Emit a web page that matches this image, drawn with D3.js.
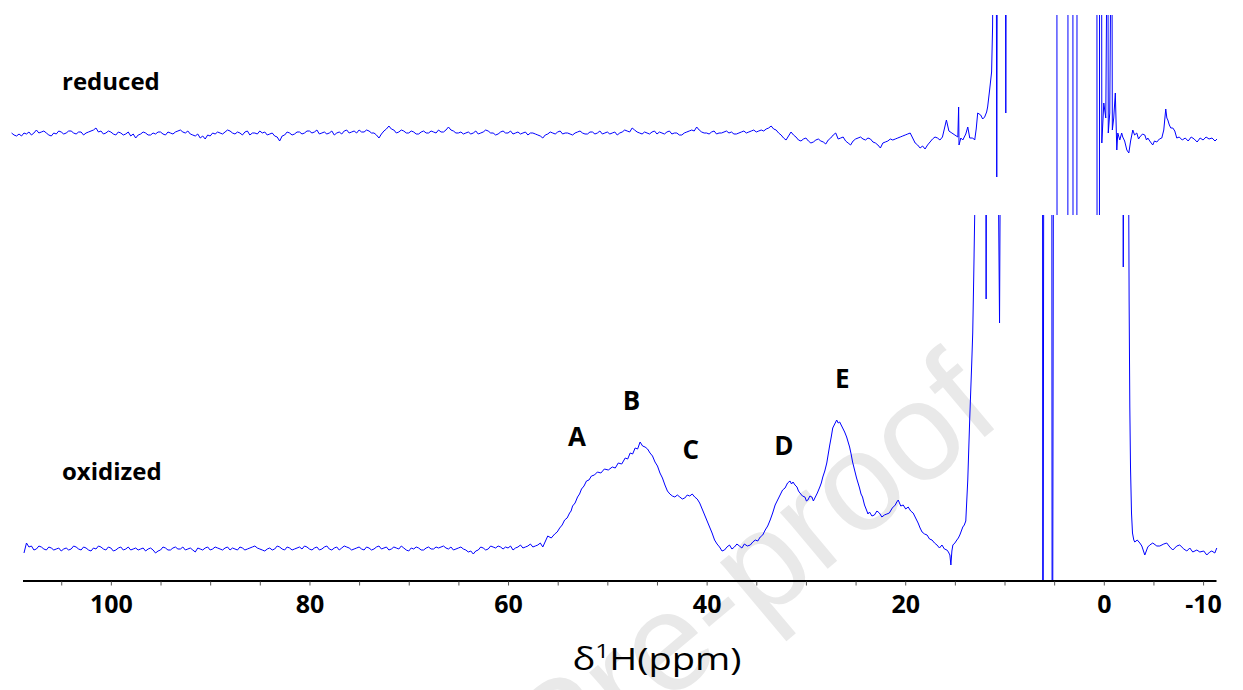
<!DOCTYPE html>
<html><head><meta charset="utf-8">
<script src="https://cdn.jsdelivr.net/npm/d3@7/dist/d3.min.js"></script>
<style>body{margin:0;background:#fff;} svg{display:block;}</style>
</head><body>
<svg id="chart" width="1243" height="690"></svg>
<script>
// ---------- data (ppm, intensity in arbitrary units) ----------
const axisTicks = [105,100,95,90,85,80,75,70,65,60,55,50,45,40,35,30,25,20,15,10,5,0,-5,-10];
const tickLabels = [100,80,60,40,20,0,-10];
const seriesNames = ["reduced","oxidized"];
const peakLabels = [
  {t:"A", ppm:53.07, h:103},
  {t:"B", ppm:47.58, h:139},
  {t:"C", ppm:41.59, h:90},
  {t:"D", ppm:32.23, h:94},
  {t:"E", ppm:26.33, h:161}
];

// reduced spectrum, baseline region: digitised every 0.25 ppm from 110 ppm downfield
const reducedNoiseStart = 110, reducedNoiseStep = 0.25;
const reducedNoise = [
0,-2,-3,-1,-3,0,-1,1,-2,0,3,0,1,2,0,-2,-3,0,-1,2,
1,-1,0,2,2,0,-1,1,1,-2,0,1,2,3,5,1,2,-1,0,2,
1,-1,-2,1,0,-2,-1,1,-3,-1,-5,-2,-1,1,0,-2,-2,0,-1,1,
1,-1,-2,1,0,-1,1,2,3,1,0,2,-1,-2,-3,-1,-5,-3,-6,-2,
-3,0,-1,1,0,-1,1,3,2,0,-1,1,0,-2,1,2,-2,0,0,-1,
2,0,1,-2,-1,0,-3,-4,-8,-3,-2,1,0,-2,-1,1,1,-1,0,2,
2,0,1,3,-1,0,1,-1,0,2,-2,0,1,-1,2,3,0,1,2,0,
3,1,1,3,2,0,0,-2,-5,-1,2,4,7,4,3,0,1,3,2,0,
0,2,1,-1,-1,1,2,0,0,2,1,0,3,1,1,3,6,3,2,0,
0,1,-1,0,1,-1,0,2,-1,0,1,3,2,0,0,-2,-1,1,2,0,
0,2,-1,0,1,-1,0,1,-2,0,0,-1,-2,-3,-5,-2,-1,1,0,-1,
1,2,-1,0,0,-1,-2,0,1,2,0,-1,-1,1,1,-1,0,2,-1,0,
1,-1,0,1,-2,0,1,3,2,1,5,3,1,0,-1,1,0,-1,1,2,
-1,1,0,-1,1,2,-1,0,0,-2,-2,0,1,2,3,2,6,3,1,0,
0,-1,1,2,-1,0,0,1,2,0,1,-1,-1,0,1,2,0,1,2,3,
1,2,3,2,4,5,7,4,3,0,-2,-5,-7,-3,1,-2,-4,-7,-8,-6,
-5,-8,-10,-9,-7,-6,-8,-9,-11,-7,-5,-2,0,-6,-5,-4,-8,-10,-12,-8,
-6,-5,-4,-6,-7,-5,-6,-9,-10,-12,-15,-10,-9,-8,-6,-7,-6,-5,-4,-3,
-2,-1,0,-5,-10,-12,-15,-13,-16,-12,-9,-6,-4,-5,-7,-4
];
// reduced spectrum, solvent / diamagnetic region (values beyond +-118 are off scale)
const reducedSolvent = [
[15.85,13],[15.6,2],[15.3,0],[15.0,-2],[14.7,-4],[14.62,26],[14.58,-12],[14.4,-5],[14.2,-7],[13.9,-1],
[13.7,6],[13.5,-5],[13.2,-5],[13.0,-7],[12.85,4],[12.7,20],[12.4,18],[12.2,14],[12.0,16],[11.8,21],
[11.7,26],[11.5,43],[11.3,61],[11.2,106],[11.1,300],[10.85,300],[10.78,-44],[10.7,300],[9.93,300],[9.87,20],
[9.8,300],[4.73,300],[4.70,-300],[3.63,-300],[3.60,300],[3.12,300],[3.09,-300],[2.72,-300],[2.69,300],[0.70,300],
[0.67,-300],[0.45,-300],[0.42,300],[0.23,300],[0.20,-10],[0.0,30],[-0.2,15],[-0.4,300],[-0.45,0],[-0.6,20],
[-0.8,300],[-0.86,3],[-1.0,15],[-1.16,40],[-1.31,-17],[-1.41,0],[-1.61,-7],[-1.8,0],[-1.91,-4],[-2.1,-8],
[-2.32,-17],[-2.52,-20],[-2.7,-8],[-2.92,3],[-3.1,-2],[-3.32,0],[-3.5,-6],[-3.63,-4],[-3.9,-1],[-4.13,-2],
[-4.3,-7],[-4.43,-5],[-4.7,-9],[-4.93,-12],[-5.1,-8],[-5.34,-9],[-5.6,-6],[-5.84,-5],[-6.04,3],[-6.24,24],
[-6.35,15],[-6.45,13],[-6.6,8],[-6.75,5],[-6.95,5],[-7.15,2],[-7.35,-5],[-7.6,-4],[-7.9,-7],[-8.2,-5],
[-8.5,-8],[-8.8,-4],[-9.1,-6],[-9.4,-9],[-9.7,-5],[-10.0,-7],[-10.3,-4],[-10.6,-6],[-10.9,-5],[-11.2,-8],
[-11.4,-6]
];

// oxidized spectrum, baseline region: digitised every 0.25 ppm from 108.75 ppm downfield
const oxidizedNoiseStart = 108.75, oxidizedNoiseStep = 0.25;
const oxidizedNoise = [
-4,6,2,3,-1,0,3,2,0,-1,2,1,-1,0,1,-2,0,1,-1,0,
3,2,0,-1,2,1,-1,-2,1,0,3,2,0,-1,2,1,-2,-1,1,2,
-1,0,2,-1,0,1,-1,0,1,-2,0,1,-1,-4,-2,-1,2,1,-1,-1,
1,2,0,0,2,-1,0,1,-1,-3,1,0,-1,1,2,-1,0,2,1,0,
-1,1,2,-1,1,0,-1,2,1,-1,0,1,2,3,1,0,-1,-2,0,1,
-1,0,3,2,0,-1,2,1,-1,0,1,2,0,3,2,0,-1,1,2,-1,
0,2,3,0,-1,1,2,-1,1,3,2,1,-1,0,1,2,0,-1,2,1,
-1,0,2,3,0,1,2,-1,0,2,1,0,3,1,-1,-2,1,0,2,1,
-1,-1,1,2,0,0,2,1,2,3,1,0,2,-1,0,1,2,0,-1,-3,
-2,-5,-2,-1,2,1,-1,0,3,2,1,3,2,0,2,1,3,-1,1,2,
4,1,2,3,5,2,3,4,6,2
];
// oxidized spectrum, hyperfine-shifted peaks A-E
const oxidizedPeaks = [
[56.0,13],[55.65,11],[55.3,15],[55.05,17],[54.8,21],[54.55,24],[54.3,29],[54.05,31],[53.8,36],[53.65,38],
[53.5,43],[53.25,46],[53.0,52],[52.8,55],[52.6,60],[52.35,63],[52.1,68],[51.85,69],[51.6,73],[51.3,74],
[51.0,77],[50.65,76],[50.3,80],[49.9,79],[49.5,82],[49.2,81],[48.9,86],[48.55,85],[48.2,91],[47.95,90],
[47.7,96],[47.45,95],[47.2,101],[46.95,100],[46.7,107],[46.45,103],[46.2,102],[45.95,100],[45.7,96],[45.45,93],
[45.2,87],[44.95,83],[44.7,76],[44.45,71],[44.2,64],[43.95,58],[43.7,55],[43.45,53],[43.2,52],[42.95,54],
[42.7,52],[42.45,50],[42.2,51],[41.95,54],[41.7,53],[41.45,55],[41.2,52],[40.95,50],[40.7,46],[40.45,40],
[40.2,34],[39.95,28],[39.7,22],[39.45,16],[39.2,9],[38.95,5],[38.7,2],[38.45,-2],[38.2,-1],[37.95,2],
[37.7,4],[37.45,0],[37.2,2],[36.95,5],[36.7,3],[36.45,1],[36.2,5],[35.9,3],[35.6,4],[35.35,7],
[35.1,9],[34.85,8],[34.6,12],[34.35,14],[34.1,19],[33.85,23],[33.6,29],[33.35,36],[33.1,44],[32.85,49],
[32.6,54],[32.35,59],[32.1,61],[31.85,66],[31.6,68],[31.45,65],[31.3,67],[31.1,64],[30.9,62],[30.75,58],
[30.6,56],[30.35,53],[30.1,52],[29.95,48],[29.8,49],[29.6,53],[29.4,52],[29.25,48],[29.1,51],[28.85,56],
[28.6,62],[28.45,66],[28.3,72],[28.1,78],[27.9,86],[27.75,95],[27.6,104],[27.45,112],[27.3,121],[27.1,125],
[26.9,129],[26.75,126],[26.6,127],[26.45,124],[26.3,121],[26.1,117],[25.9,112],[25.75,107],[25.6,102],[25.45,95],
[25.3,87],[25.1,79],[24.9,71],[24.75,66],[24.6,61],[24.45,55],[24.3,52],[24.1,44],[23.9,39],[23.75,35],
[23.6,37],[23.35,33],[23.1,34],[22.85,38],[22.6,36],[22.35,32],[22.1,34],[21.85,35],[21.6,36],[21.3,41],
[21.0,44],[20.85,47],[20.7,49],[20.45,43],[20.2,44],[19.95,40],[19.7,42],[19.45,38],[19.2,36],[18.95,31],
[18.7,26],[18.5,21],[18.3,17],[18.05,15],[17.8,14],[17.55,10],[17.3,9],[17.05,6],[16.8,4],[16.55,1],
[16.3,4],[16.05,0],[15.8,-1],[15.65,-3],[15.5,-6],[15.4,-16],[15.3,-2],[15.2,4],[15.0,6],[14.8,9],
[14.65,11],[14.5,14],[14.35,18],[14.2,22],[14.05,24],[13.9,28]
];
// oxidized spectrum, diamagnetic / solvent region (values beyond the panel are off scale)
const oxidizedSolvent = [
[13.7,69],[13.5,131],[13.3,186],[13.2,216],[13.1,272],[13.0,334],[12.9,500],[11.9,500],[11.85,250],[11.8,500],
[10.73,500],[10.5,226],[10.37,500],[6.17,500],[6.14,-400],[6.04,500],[5.24,500],[5.19,-400],[5.06,500],[-1.91,500],
[-1.96,282],[-2.03,500],[-2.45,500],[-2.55,249],[-2.62,142],[-2.69,82],[-2.79,36],[-2.89,16],[-3.02,9],[-3.12,7],
[-3.37,9],[-3.63,6],[-3.83,3],[-4.13,-6],[-4.43,2],[-4.63,4],[-4.93,6],[-5.34,3],[-5.64,3],[-6.04,5],
[-6.34,6],[-6.65,2],[-6.95,-1],[-7.35,3],[-7.65,4],[-8.06,0],[-8.36,-2],[-8.66,1],[-8.96,-3],[-9.37,-1],
[-9.67,-3],[-10.07,-2],[-10.37,-6],[-10.67,-3],[-10.88,-2],[-11.18,-4],[-11.38,1]
];

const reduced = reducedNoise.map((v, i) => [reducedNoiseStart - i * reducedNoiseStep, v]).concat(reducedSolvent);
const oxidized = oxidizedNoise.map((v, i) => [oxidizedNoiseStart - i * oxidizedNoiseStep, v])
  .concat(oxidizedPeaks, oxidizedSolvent);

// ---------- drawing ----------
const svg = d3.select("#chart");
const W = 1243;
const FONT = "'Open Sans', 'DejaVu Sans', sans-serif";

const x = d3.scaleLinear().domain([108.9, -11.3]).range([22.5, 1216]);
const yRed = d3.scaleLinear().domain([0, 118]).range([133, 15]);
const yOx = d3.scaleLinear().domain([0, 334]).range([549, 215]);

// watermark
svg.append("text")
  .attr("transform", "translate(1005,420) rotate(-40)")
  .attr("text-anchor", "end")
  .attr("font-family", "'Liberation Sans', Arial, sans-serif")
  .attr("font-size", 140)
  .attr("fill", "#e9e9e9")
  .text("Journal Pre-proof");

const defs = svg.append("defs");
defs.append("clipPath").attr("id","clipTop").append("rect")
  .attr("x",0).attr("y",yRed(118)).attr("width",W).attr("height",yOx(334)-yRed(118));
defs.append("clipPath").attr("id","clipBot").append("rect")
  .attr("x",0).attr("y",yOx(334)).attr("width",W).attr("height",581-yOx(334));

const lineRed = d3.line().x(d => x(d[0])).y(d => yRed(d[1]));
const lineOx = d3.line().x(d => x(d[0])).y(d => yOx(d[1]));

svg.append("path").datum(reduced)
  .attr("clip-path","url(#clipTop)")
  .attr("d", lineRed).attr("fill","none").attr("stroke","#0000ff").attr("stroke-width",1);
svg.append("path").datum(oxidized)
  .attr("clip-path","url(#clipBot)")
  .attr("d", lineOx).attr("fill","none").attr("stroke","#0000ff").attr("stroke-width",1);

// series labels
svg.append("text").attr("x",62).attr("y",90)
  .attr("font-family",FONT).attr("font-weight",700).attr("font-size",24).attr("fill","#000")
  .text(seriesNames[0]);
svg.append("text").attr("x",62).attr("y",480)
  .attr("font-family",FONT).attr("font-weight",700).attr("font-size",24).attr("fill","#000")
  .text(seriesNames[1]);

// peak labels
svg.selectAll("text.peak").data(peakLabels).enter().append("text")
  .attr("class","peak")
  .attr("x", d => x(d.ppm)).attr("y", d => yOx(d.h))
  .attr("text-anchor","middle")
  .attr("font-family",FONT).attr("font-weight",700).attr("font-size",26).attr("fill","#000")
  .text(d => d.t);

// x axis
const axisY = 580.5;
const axis = d3.axisBottom(x)
  .tickValues(axisTicks)
  .tickSize(5)
  .tickSizeOuter(0)
  .tickFormat(d => tickLabels.includes(d) ? String(d) : "");
const gAxis = svg.append("g").attr("transform",`translate(0,${axisY})`).call(axis);
gAxis.select(".domain").attr("stroke","#000").attr("stroke-width",2);
gAxis.selectAll(".tick line").attr("stroke","#555").attr("stroke-width",1).attr("y1",1);
gAxis.selectAll(".tick text")
  .attr("y", 32.5).attr("dy", null)
  .attr("font-family",FONT).attr("font-weight",700).attr("font-size",25).attr("fill","#000");

// axis title
const title = svg.append("text")
  .attr("x", 657).attr("y", 670)
  .attr("text-anchor","middle")
  .attr("font-family",FONT).attr("font-size",31).attr("fill","#000")
  .attr("textLength",169).attr("lengthAdjust","spacingAndGlyphs");
title.append("tspan").text("δ");
title.append("tspan").attr("font-size",20).attr("dy",-12).text("1");
title.append("tspan").attr("dy",12).text("H(ppm)");
</script>
</body></html>
